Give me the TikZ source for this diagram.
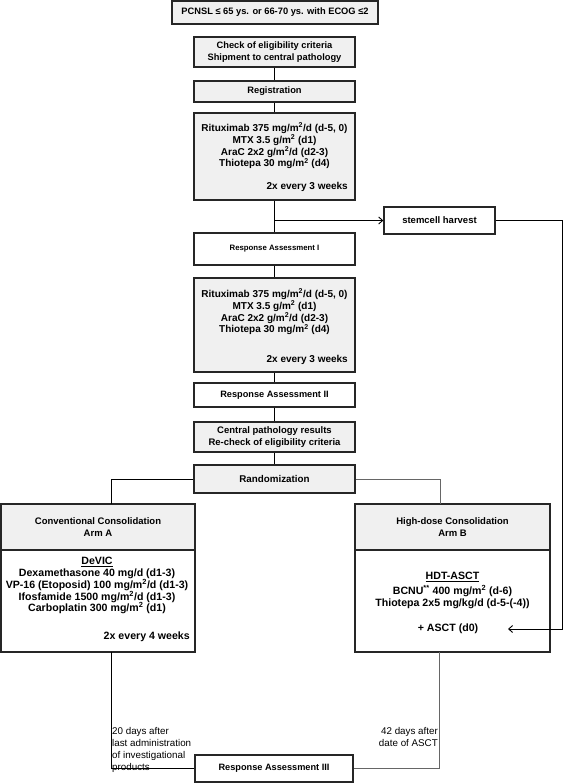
\documentclass[tikz,border=0pt]{standalone}
\usepackage{fontspec}
\setmainfont{Liberation Sans}
\usetikzlibrary{arrows.meta}
\newcommand{\fs}[2]{\fontsize{#1bp}{#2bp}\selectfont}
\begin{document}
\begin{tikzpicture}[x=1bp,y=-1bp,
  base/.style={draw=black!85, line width=1.3bp, inner sep=0pt, align=center, font=\bfseries\fs{9.3}{11.7}},
  boxg/.style={base, fill=gray!12},
  boxw/.style={base, fill=white},
  txt/.style={inner sep=0pt, align=center, font=\bfseries\fs{10}{11.8}},
  armtxt/.style={inner sep=0pt, align=center, font=\bfseries\fs{10.6}{11.7}},
  lbl/.style={inner sep=0pt, font=\fs{9.8}{12}},
  conn/.style={draw=black, line width=0.9bp},
  connr/.style={draw=black!60, line width=0.9bp},
  arr/.style={-{Straight Barb[length=4bp,width=7bp]}}
]
\useasboundingbox (0,0) rectangle (567,784);

% main column
\node[boxg, minimum width=206bp, minimum height=23bp] (pcnsl) at (275,12.5) {PCNSL ≤ 65 ys. or 66-70 ys. with ECOG ≤2};
\node[boxg, minimum width=161bp, minimum height=30bp] (check) at (274.5,52) {Check of eligibility criteria\\Shipment to central pathology};
\node[boxg, minimum width=161bp, minimum height=21bp] (reg) at (274.5,91.5) {Registration};

\node[boxg, minimum width=161bp, minimum height=87bp] (chemoA) at (274.5,156.5) {};
\node[txt] (chemoAt) at (274.5,146) {Rituximab 375 mg/m\textsuperscript{2}/d (d-5, 0)\\MTX 3.5 g/m\textsuperscript{2} (d1)\\AraC 2x2 g/m\textsuperscript{2}/d (d2-3)\\Thiotepa 30 mg/m\textsuperscript{2} (d4)};
\node[txt, anchor=east] (chemoAr) at (348,187) {2x every 3 weeks};

\node[boxw, minimum width=161bp, minimum height=32bp, font=\bfseries\fs{7.8}{9}] (ra1) at (274.5,249) {Response Assessment I};
\node[boxw, minimum width=111bp, minimum height=27bp, font=\bfseries\fs{9.5}{11}] (stem) at (439.5,220.5) {stemcell harvest};

\node[boxg, minimum width=161bp, minimum height=94bp] (chemoB) at (274.5,325) {};
\node[txt] (chemoBt) at (274.5,312) {Rituximab 375 mg/m\textsuperscript{2}/d (d-5, 0)\\MTX 3.5 g/m\textsuperscript{2} (d1)\\AraC 2x2 g/m\textsuperscript{2}/d (d2-3)\\Thiotepa 30 mg/m\textsuperscript{2} (d4)};
\node[txt, anchor=east] (chemoBr) at (348,360) {2x every 3 weeks};

\node[boxw, minimum width=161bp, minimum height=24bp, font=\bfseries\fs{9.2}{11}] (ra2) at (274.5,395) {Response Assessment II};
\node[boxg, minimum width=161bp, minimum height=30bp, font=\bfseries\fs{9.5}{11.5}] (cp) at (274.5,437) {Central pathology results\\Re-check of eligibility criteria};
\node[boxg, minimum width=161bp, minimum height=28bp, font=\bfseries\fs{9.8}{11.5}] (rand) at (274.5,479) {Randomization};

% arm A
\node[boxg, minimum width=194bp, minimum height=46bp, font=\bfseries\fs{9.5}{11.5}] (armAh) at (98,527) {Conventional Consolidation\\Arm A};
\node[boxw, minimum width=194bp, minimum height=102bp] (armAb) at (98,601) {};
\node[armtxt] (armAu) at (97,562) {\underline{DeVIC}};
\node[armtxt] (armAt) at (97,591.5) {Dexamethasone 40 mg/d (d1-3)\\VP-16 (Etoposid) 100 mg/m\textsuperscript{2}/d (d1-3)\\Ifosfamide 1500 mg/m\textsuperscript{2}/d (d1-3)\\Carboplatin 300 mg/m\textsuperscript{2} (d1)};
\node[armtxt, anchor=east] (armAr) at (190,637) {2x every 4 weeks};

% arm B
\node[boxg, minimum width=195bp, minimum height=46bp, font=\bfseries\fs{9.5}{11.5}] (armBh) at (452.5,527) {High-dose Consolidation\\Arm B};
\node[boxw, minimum width=195bp, minimum height=102bp] (armBb) at (452.5,601) {};
\node[armtxt] (armBu) at (452.5,577) {\underline{HDT-ASCT}};
\node[armtxt, font=\bfseries\fs{10.6}{12}] (armBt) at (452.5,597) {BCNU\textsuperscript{**} 400 mg/m\textsuperscript{2} (d-6)\\Thiotepa 2x5 mg/kg/d (d-5-(-4))};
\node[armtxt] (asct) at (448,629) {+ ASCT (d0)};

% final assessment
\node[boxw, minimum width=158bp, minimum height=27bp, font=\bfseries\fs{9.2}{11}] (ra3) at (274,768.5) {Response Assessment III};

\node[lbl, anchor=north west, align=left] (lblA) at (112,727) {20 days after\\last administration\\of investigational\\products};
\node[lbl, anchor=north east, align=right] (lblB) at (438,727) {42 days after\\date of ASCT};

% coordinates
\coordinate (split) at (274.5,220.5);
\coordinate (sc) at (562,629);
\coordinate (ascttip) at (508,629);
\coordinate (aTop) at (111,504);
\coordinate (bTop) at (440,504);
\coordinate (aBot) at (111,652);
\coordinate (bBot) at (439,652);

% connectors
\draw[conn] (check) -- (reg);
\draw[conn] (reg) -- (chemoA);
\draw[conn] (chemoA) -- (ra1);
\draw[conn,arr] (split) -- (stem);
\draw[conn,arr] (stem.east) -| (sc) -- (ascttip);
\draw[conn] (ra1) -- (chemoB);
\draw[conn] (chemoB) -- (ra2);
\draw[conn] (ra2) -- (cp);
\draw[conn] (cp) -- (rand);
\draw[conn] (rand.west) -| (aTop);
\draw[connr] (rand.east) -| (bTop);
\draw[conn] (aBot) |- (ra3.west);
\draw[connr] (bBot) |- (ra3.east);
\end{tikzpicture}
\end{document}
